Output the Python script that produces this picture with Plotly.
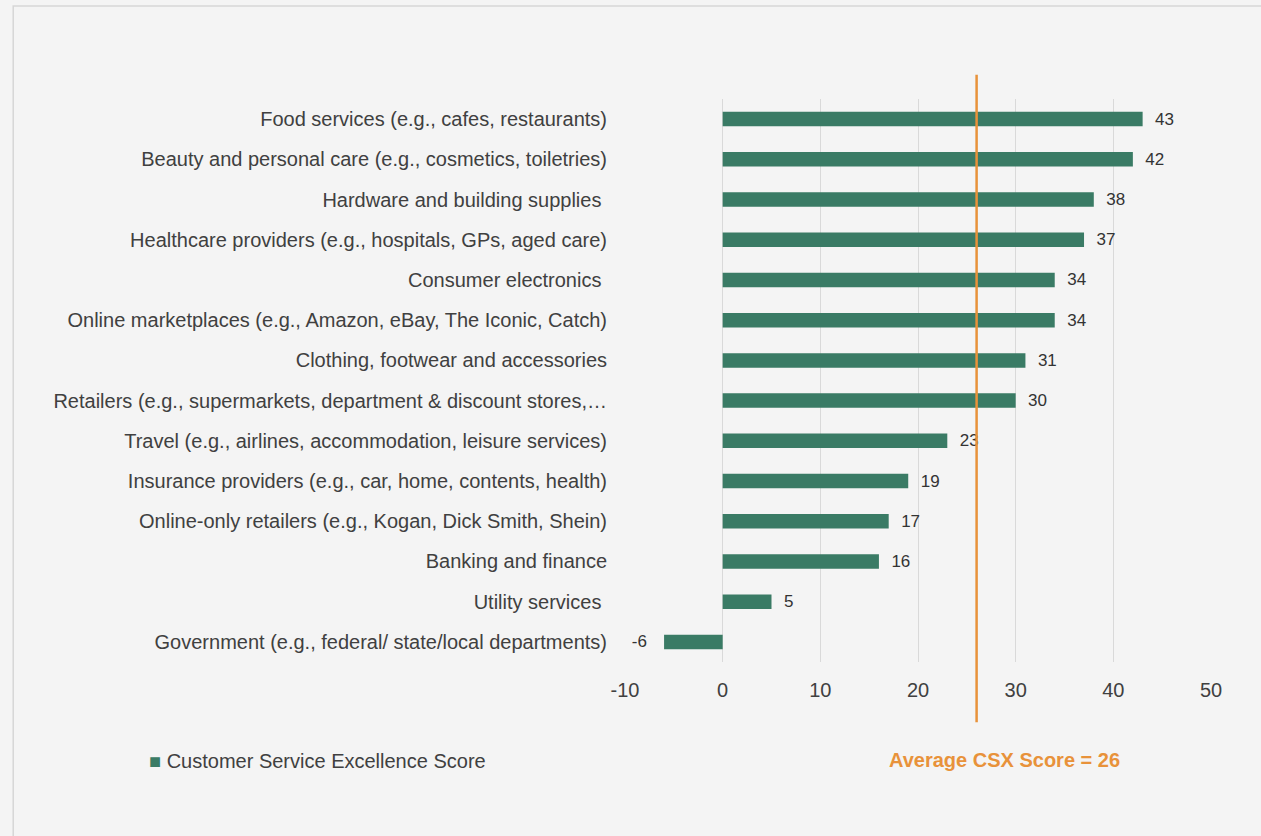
import plotly.graph_objects as go

categories = [
    "Food services (e.g., cafes, restaurants)",
    "Beauty and personal care (e.g., cosmetics, toiletries)",
    "Hardware and building supplies\u00a0",
    "Healthcare providers (e.g., hospitals, GPs, aged care)",
    "Consumer electronics\u00a0",
    "Online marketplaces (e.g., Amazon, eBay, The Iconic, Catch)",
    "Clothing, footwear and accessories",
    "Retailers (e.g., supermarkets, department & discount stores,\u2026",
    "Travel (e.g., airlines, accommodation, leisure services)",
    "Insurance providers (e.g., car, home, contents, health)",
    "Online-only retailers (e.g., Kogan, Dick Smith, Shein)",
    "Banking and finance",
    "Utility services\u00a0",
    "Government (e.g., federal/ state/local departments)",
]
scores = [43, 42, 38, 37, 34, 34, 31, 30, 23, 19, 17, 16, 5, -6]
average_score = 26
series_name = "Customer Service Excellence Score"
x_ticks = [-10, 0, 10, 20, 30, 40, 50]
x_tick_labels = ["-10", "0", "10", "20", "30", "40", "50"]

GREEN = "#3a7b65"
ORANGE = "#e8923a"
TEXT = "#404040"
BG = "#f4f4f4"
FONT = "Liberation Sans, Arial, sans-serif"


def bar_label(v):
    return ("\u00a0\u00a0" + str(v)) if v >= 0 else (str(v) + "\u00a0\u00a0\u00a0")


fig = go.Figure()
fig.add_trace(go.Bar(
    y=categories, x=scores, orientation="h", name=series_name,
    marker=dict(color=GREEN, line=dict(width=0)),
    width=0.36,
    text=[bar_label(v) for v in scores], textposition="outside",
    constraintext="none",
    textfont=dict(size=17, color="#333333"),
    cliponaxis=False, showlegend=False,
))

fig.add_shape(type="line", xref="x", yref="paper", x0=average_score, x1=average_score,
              y0=-0.107, y1=1.043, line=dict(color=ORANGE, width=2.5), layer="above")
# outer frame
fig.add_shape(type="rect", xref="paper", yref="paper", x0=-1.044, x1=1.2, y0=-0.4, y1=1.165,
              line=dict(color="#d6d6d6", width=1.5), layer="below")

# legend-style key
fig.add_annotation(text=f"<span style='color:{GREEN}'>\u25a0</span> {series_name}",
                   xref="paper", yref="paper",
                   x=(147 - 625) / 586, y=(662 - 761) / 563, xanchor="left", yanchor="middle",
                   showarrow=False, font=dict(size=20, color=TEXT, family=FONT))

fig.add_annotation(text=f"<b>Average CSX Score = {average_score}</b>", xref="paper", yref="paper",
                   x=(887 - 625) / 586, y=(662 - 760) / 563, xanchor="left", yanchor="middle",
                   showarrow=False, font=dict(size=20, color=ORANGE, family=FONT))

fig.update_layout(
    width=1261, height=836,
    margin=dict(l=625, r=50, t=99, b=174),
    paper_bgcolor=BG, plot_bgcolor=BG,
    font=dict(family=FONT, size=20, color=TEXT),
    showlegend=False,
    xaxis=dict(range=[-10, 50], tickvals=x_ticks, ticktext=x_tick_labels,
               showgrid=True, gridcolor="#d9d9d9",
               gridwidth=1, zeroline=False, showline=False, ticks="",
               ticklabelstandoff=14,
               tickfont=dict(size=20, color=TEXT)),
    yaxis=dict(autorange="reversed", showgrid=False, zeroline=False, showline=False,
               ticks="", ticklabelstandoff=17, tickfont=dict(size=20, color=TEXT)),
    bargap=0.64,
)

fig.write_html("out.html", config={"displayModeBar": False},
               post_script="document.body.style.margin='0';document.body.style.padding='0';")
